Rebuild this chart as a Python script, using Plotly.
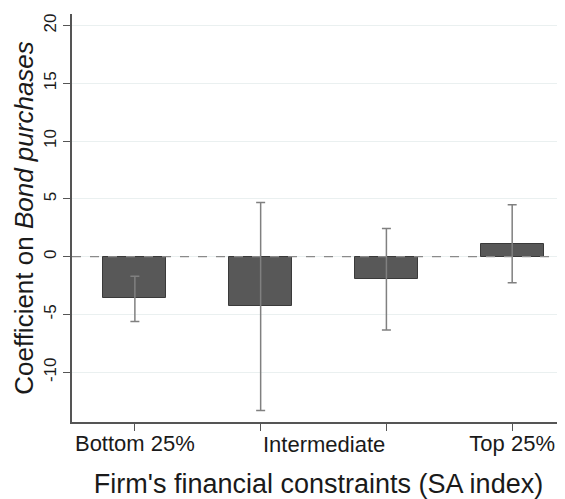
import plotly.graph_objects as go

# Data
positions = [1, 2, 3, 4]
coef = [-3.6, -4.3, -1.9, 1.1]
ci_upper = [-1.7, 4.7, 2.45, 4.5]
ci_lower = [-5.6, -13.3, -6.35, -2.25]
tick_labels = ["Bottom 25%", "", "", "Top 25%"]
middle_label = "Intermediate"
y_ticks = [-10, -5, 0, 5, 10, 15, 20]
y_tick_labels = ["-10", "-5", "0", "5", "10", "15", "20"]

err_plus = [u - c for u, c in zip(ci_upper, coef)]
err_minus = [c - l for c, l in zip(coef, ci_lower)]

FONT = "Liberation Sans, Arial, sans-serif"

fig = go.Figure()
fig.add_trace(go.Bar(
    x=positions, y=coef, width=0.5,
    marker=dict(color="#585858", line=dict(color="#3a3a3a", width=1)),
    error_y=dict(type="data", symmetric=False, array=err_plus, arrayminus=err_minus,
                 color="#808080", thickness=1.5, width=4.5),
    showlegend=False,
))

fig.add_shape(type="line", xref="paper", yref="y", x0=0, x1=1, y0=0, y1=0,
              line=dict(color="#8a8a8a", width=1.3, dash="dash"), layer="above")

fig.add_annotation(x=2.5, xref="x", y=0, yref="paper", text=middle_label,
                   showarrow=False, yanchor="top", yshift=-8,
                   font=dict(family=FONT, size=22, color="#1a1a1a"))

fig.update_layout(
    width=557, height=491,
    margin=dict(l=64, r=0, t=6, b=77),
    paper_bgcolor="white", plot_bgcolor="white",
    font=dict(family=FONT, color="#1a1a1a"),
    bargap=0,
    xaxis=dict(
        range=[0.5, 4.42], tickmode="array", tickvals=positions, ticktext=tick_labels,
        ticks="outside", ticklen=7, tickcolor="#555", tickwidth=1,
        ticklabelstandoff=-6,
        showline=True, linecolor="#555", linewidth=1.5, showgrid=False, zeroline=False,
        automargin=False,
        tickfont=dict(size=22, color="#1a1a1a"),
        title=dict(text="Firm's financial constraints (SA index)", standoff=20,
                   font=dict(size=27, color="#1a1a1a")),
    ),
    yaxis=dict(
        range=[-14.3, 21.0], tickmode="array", tickvals=y_ticks, ticktext=y_tick_labels,
        ticks="outside", ticklen=7, tickcolor="#555", tickwidth=1, tickangle=-90,
        showline=True, linecolor="#555", linewidth=1.5,
        showgrid=True, gridcolor="#eaf0f0", gridwidth=1, zeroline=False,
        automargin=False,
        tickfont=dict(size=17, color="#1a1a1a"),
        title=dict(text="Coefficient on <i>Bond purchases</i>", standoff=0,
                   font=dict(size=26, color="#1a1a1a")),
    ),
)

fig.write_html("out.html")
